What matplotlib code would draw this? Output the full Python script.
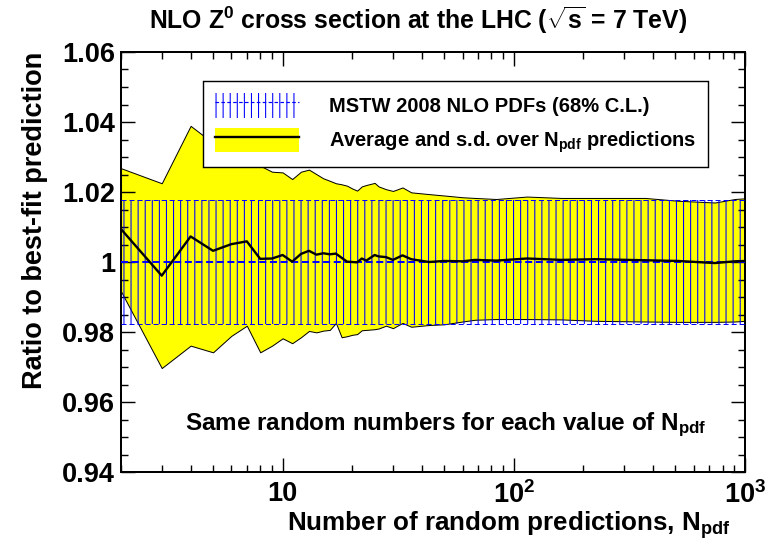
import math
import matplotlib
matplotlib.use('Agg')
import matplotlib.pyplot as plt
from matplotlib.patches import Patch
from matplotlib.lines import Line2D
from matplotlib.ticker import LogLocator, FuncFormatter, MultipleLocator, NullFormatter

# number of random predictions
n_pdf = [2, 3, 4, 5, 6, 7, 8, 9, 10, 11, 12, 13, 14, 15, 16, 17, 18, 19, 20,
         21, 22, 23, 25, 26, 28, 30, 33, 36, 43, 50, 60, 68, 84, 114, 161,
         225, 370, 514, 741, 904, 1000]

# average over N_pdf predictions (ratio to best fit)
mean = [1.0094, 0.9961, 1.0073, 1.0032, 1.0051, 1.0059, 1.0009, 1.0010,
        1.0020, 1.0001, 1.0023, 1.0032, 1.0021, 1.0025, 1.0022, 1.0024,
        1.0012, 1.0001, 1.0000, 0.9999, 1.0010, 1.0004, 1.0020, 1.0016,
        1.0014, 1.0006, 1.0019, 1.0008, 1.0000, 1.0003, 1.0002, 1.0006,
        1.0004, 1.0010, 1.0006, 1.0008, 1.0005, 1.0003, 0.9997, 1.0002,
        1.0003]

# mean + s.d.
band_hi = [1.0268, 1.0225, 1.0389, 1.0340, 1.0310, 1.0292, 1.0275, 1.0258,
           1.0256, 1.0237, 1.0258, 1.0264, 1.0251, 1.0239, 1.0232, 1.0225,
           1.0222, 1.0218, 1.0210, 1.0204, 1.0216, 1.0220, 1.0226, 1.0216,
           1.0208, 1.0203, 1.0213, 1.0199, 1.0194, 1.0190, 1.0185, 1.0183,
           1.0180, 1.0187, 1.0183, 1.0183, 1.0183, 1.0175, 1.0170, 1.0180,
           1.0182]

# mean - s.d.
band_lo = [0.9916, 0.9697, 0.9761, 0.9742, 0.9789, 0.9818, 0.9742, 0.9761,
           0.9782, 0.9768, 0.9785, 0.9803, 0.9799, 0.9804, 0.9806, 0.9826,
           0.9785, 0.9788, 0.9792, 0.9794, 0.9805, 0.9806, 0.9808, 0.9810,
           0.9818, 0.9811, 0.9826, 0.9815, 0.9820, 0.9822, 0.9830, 0.9835,
           0.9837, 0.9837, 0.9836, 0.9832, 0.9830, 0.9829, 0.9829, 0.9830,
           0.9832]

# MSTW 2008 NLO 68% C.L. band
mstw_hi = 1.0178
mstw_lo = 0.9823
best_fit = 1.0

plt.rcParams['font.family'] = ['Liberation Sans', 'DejaVu Sans']
plt.rcParams['font.weight'] = 'bold'
plt.rcParams['axes.labelweight'] = 'bold'
plt.rcParams['mathtext.fontset'] = 'custom'
plt.rcParams['mathtext.rm'] = 'Liberation Sans:bold'
plt.rcParams['mathtext.it'] = 'Liberation Sans:bold'
plt.rcParams['mathtext.bf'] = 'Liberation Sans:bold'
plt.rcParams['hatch.linewidth'] = 0.9
plt.rcParams['hatch.color'] = 'blue'

fig = plt.figure(figsize=(9.0, 552 / 85), dpi=85)
ax = fig.add_axes([0.1582, 0.1449, 0.8157, 0.7609])

ax.fill_between(n_pdf, band_lo, band_hi, facecolor='#ffff00', edgecolor='black',
                lw=0.85, zorder=1)
ax.fill_between([n_pdf[0], n_pdf[-1]], mstw_lo, mstw_hi, facecolor='none',
                edgecolor='blue', hatch='||', lw=0, zorder=2)
ax.hlines([mstw_lo, mstw_hi], n_pdf[0], n_pdf[-1], colors='blue',
          linestyles=(0, (5, 3)), lw=0.85, zorder=3)
ax.axhline(best_fit, color='blue', ls=(0, (3.5, 1.8)), lw=1.7, zorder=3)
ax.plot(n_pdf, mean, color='black', lw=2.0, zorder=4)

ax.set_xscale('log')
ax.set_xlim(2, 1000)
ax.set_ylim(0.94, 1.06)


def xfmt(v, pos):
    if abs(v - 10) < 1e-6:
        return '10'
    return r'$10^{%d}$' % round(math.log10(v))


ax.xaxis.set_major_locator(LogLocator(base=10))
ax.xaxis.set_minor_locator(LogLocator(base=10, subs=range(2, 10)))
ax.xaxis.set_major_formatter(FuncFormatter(xfmt))
ax.xaxis.set_minor_formatter(NullFormatter())
ax.yaxis.set_major_locator(MultipleLocator(0.02))
ax.yaxis.set_minor_locator(MultipleLocator(0.005))
ax.yaxis.set_major_formatter(FuncFormatter(lambda v, p: '%g' % round(v, 3)))

ax.tick_params(which='both', direction='in', top=True, right=True,
               labelsize=23, width=1.2)
ax.tick_params(which='major', length=12)
ax.tick_params(which='minor', length=6)
ax.tick_params(axis='x', pad=8)
ax.tick_params(axis='y', pad=5)
for sp in ax.spines.values():
    sp.set_linewidth(1.7)

ax.set_xlabel(r'Number of random predictions, $N_{\rm pdf}$', fontsize=22,
              fontweight='bold', loc='right')
ax.xaxis.set_label_coords(0.976, -0.088)
ax.set_ylabel('Ratio to best-fit prediction', fontsize=23, fontweight='bold',
              loc='top', labelpad=12)

fig.text(0.547, 0.964, r'NLO Z$^0$ cross section at the LHC ($\sqrt{s}$ = 7 TeV)',
         fontsize=21, fontweight='bold', ha='center', va='center')

ax.text(0.52, 0.112, r'Same random numbers for each value of $N_{\rm pdf}$',
        transform=ax.transAxes, fontsize=20.5, fontweight='bold',
        ha='center', va='center')

handles = [
    (Patch(facecolor='none', edgecolor='blue', hatch='||', lw=0),
     Line2D([], [], color='blue', ls=(0, (3, 2)), lw=1.0)),
    (Patch(facecolor='#ffff00', edgecolor='none'),
     Line2D([], [], color='black', lw=2.0)),
]
labels = ['MSTW 2008 NLO PDFs (68% C.L.)',
          r'Average and s.d. over $N_{\rm pdf}$ predictions']
leg = ax.legend(handles, labels, loc='upper left', bbox_to_anchor=(0.131, 0.931),
                fontsize=17, frameon=True, fancybox=False, handlelength=4.2,
                handleheight=1.5, handletextpad=1.5, labelspacing=0.5,
                borderpad=0.6, borderaxespad=0)
leg.get_frame().set_edgecolor('black')
leg.get_frame().set_linewidth(1.2)
leg.get_frame().set_alpha(1)

fig.savefig('out.png', dpi=85)
